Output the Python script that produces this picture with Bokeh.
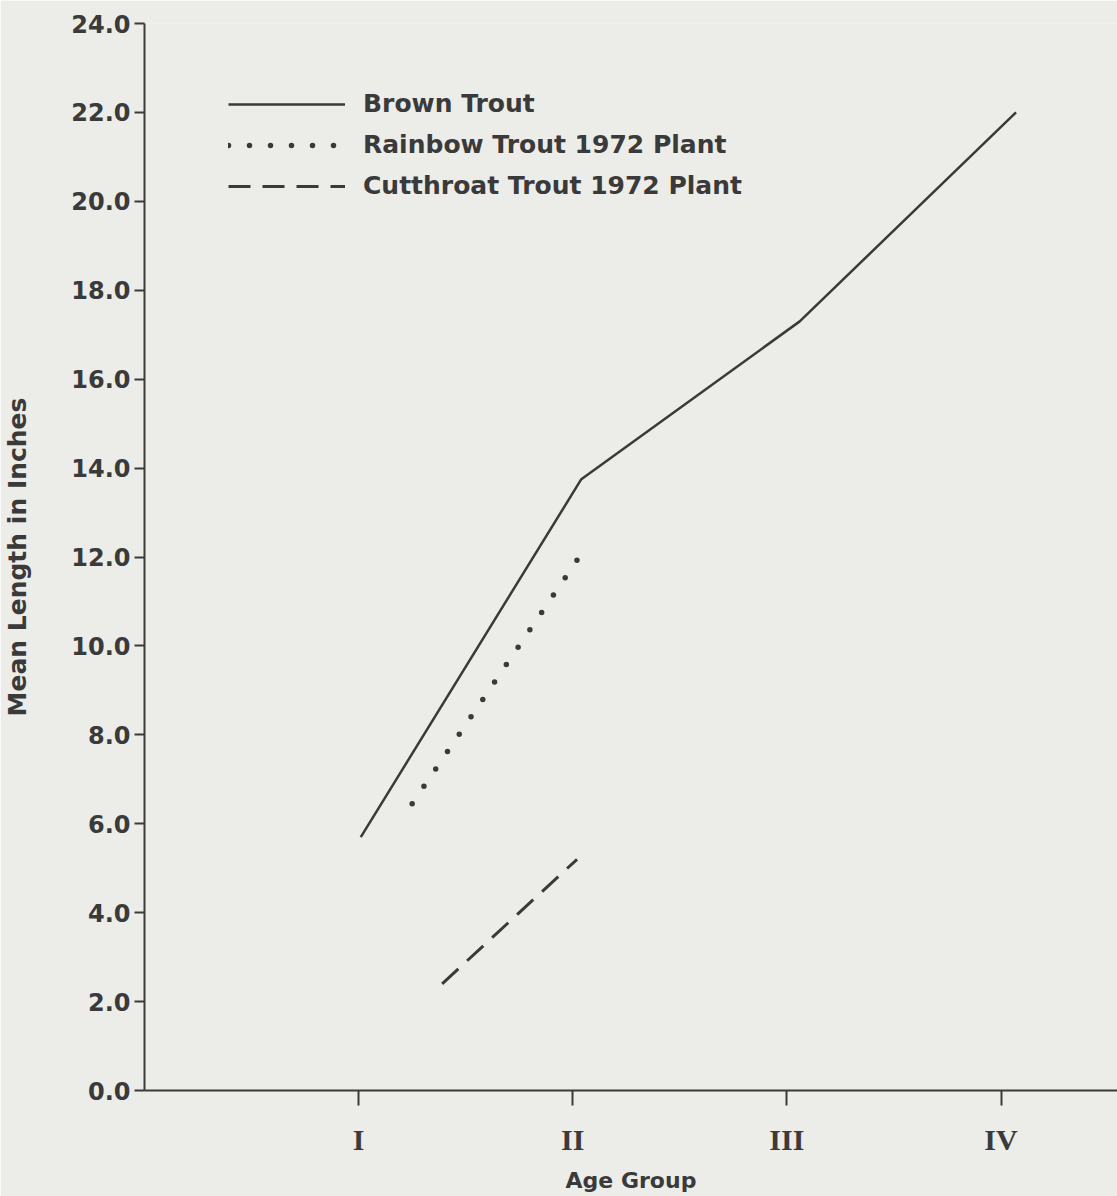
from bokeh.plotting import figure
from bokeh.models import Range1d, FixedTicker, NumeralTickFormatter, Legend, LegendItem
from bokeh.embed import file_html
from bokeh.resources import INLINE

# ---- data ----
brown_age = [1.01, 2.04, 3.06, 4.07]
brown_len = [5.7, 13.75, 17.3, 22.0]

rainbow_age = [1.25, 2.03]
rainbow_len = [6.45, 12.0]

cutthroat_age = [1.39, 2.02]
cutthroat_len = [2.4, 5.2]

age_ticks = [1, 2, 3, 4]
age_labels = ["I", "II", "III", "IV"]
len_ticks = [0, 2, 4, 6, 8, 10, 12, 14, 16, 18, 20, 22, 24]

BG = "#ecece9"
INK = "#3a3a3a"
FONT = "DejaVu Sans"

p = figure(width=1117, height=1196, output_backend="svg", toolbar_location=None,
           x_range=Range1d(0, 4.544), y_range=Range1d(0, 24),
           min_border_left=140, min_border_top=23, min_border_bottom=106, min_border_right=0)
p.background_fill_color = BG
p.border_fill_color = BG
p.outline_line_color = None
p.xgrid.visible = False
p.ygrid.visible = False

r_brown = p.line(brown_age, brown_len, line_color=INK, line_width=2.5)
r_rain = p.line(rainbow_age, rainbow_len, line_color=INK, line_width=5.5,
                line_dash="0 21", line_cap="round")
r_cut = p.line(cutthroat_age, cutthroat_len, line_color=INK, line_width=3,
               line_dash="22 12")

# axes
xa = p.xaxis[0]
xa.ticker = FixedTicker(ticks=age_ticks)
xa.major_label_overrides = {t: l for t, l in zip(age_ticks, age_labels)}
xa.major_label_text_font = "Liberation Serif"
xa.major_label_text_font_style = "bold"
xa.major_label_text_font_size = "30px"
xa.major_label_text_color = INK
xa.major_label_standoff = 17
xa.major_tick_out = 15
xa.major_tick_in = 0
xa.minor_tick_line_color = None
xa.axis_line_width = 2
xa.axis_line_color = INK
xa.major_tick_line_width = 2
xa.major_tick_line_color = INK
xa.axis_label = "Age Group"
xa.axis_label_text_font = FONT
xa.axis_label_text_font_style = "bold"
xa.axis_label_text_font_size = "22px"
xa.axis_label_text_color = INK
xa.axis_label_standoff = 9

ya = p.yaxis[0]
ya.ticker = FixedTicker(ticks=len_ticks)
ya.formatter = NumeralTickFormatter(format="0.0")
ya.major_label_text_font = FONT
ya.major_label_text_font_style = "bold"
ya.major_label_text_font_size = "24px"
ya.major_label_text_color = INK
ya.major_label_standoff = 4
ya.major_tick_out = 10
ya.major_tick_in = 0
ya.minor_tick_line_color = None
ya.axis_line_width = 2
ya.axis_line_color = INK
ya.major_tick_line_width = 2
ya.major_tick_line_color = INK
ya.axis_label = "Mean Length in Inches"
ya.axis_label_text_font = FONT
ya.axis_label_text_font_style = "bold"
ya.axis_label_text_font_size = "25px"
ya.axis_label_text_color = INK
ya.axis_label_standoff = 36

legend = Legend(items=[
    LegendItem(label="Brown Trout", renderers=[r_brown]),
    LegendItem(label="Rainbow Trout 1972 Plant", renderers=[r_rain]),
    LegendItem(label="Cutthroat Trout 1972 Plant", renderers=[r_cut]),
], location=(84, 890))
legend.background_fill_alpha = 0
legend.border_line_color = None
legend.padding = 0
legend.margin = 0
legend.spacing = 12
legend.glyph_width = 117
legend.glyph_height = 26
legend.label_height = 26
legend.label_standoff = 18
legend.label_text_font = FONT
legend.label_text_font_style = "bold"
legend.label_text_font_size = "25px"
legend.label_text_color = INK
p.add_layout(legend, "center")

open("out.html", "w").write(file_html(p, INLINE))
